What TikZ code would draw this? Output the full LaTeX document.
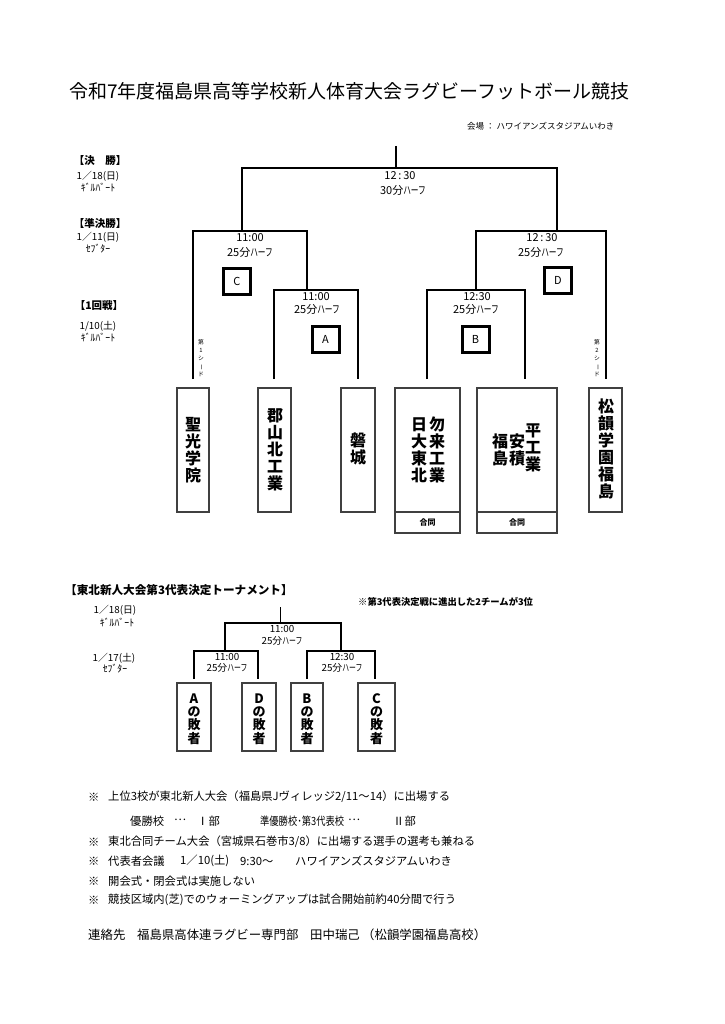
\documentclass[tikz,border=0pt]{standalone}
\usepackage{fontspec}
\setmainfont{Noto Sans CJK JP}
\newcommand\myfs[2]{\fontsize{#1}{#2}\selectfont}
\newcommand\hf{\scalebox{0.7}[1]{ハーフ}}
\newcommand\dts{\raisebox{0.3em}{…}}
\begin{document}
\begin{tikzpicture}[x=1pt,y=-1pt,
  br/.style={line width=2pt},
  brl/.style={line width=1.8pt},
  lbox/.style={draw,line width=3pt,minimum width=27,minimum height=26,inner sep=0,font=\myfs{11}{11}},
  team/.style={draw,line width=1.3pt,draw=black!75,inner sep=0},
  tt/.style={font=\myfs{16}{17}\bfseries,align=center,inner sep=0},
  lt/.style={font=\myfs{13}{13.3}\bfseries,align=center,inner sep=0},
  ml/.style={font=\myfs{11}{11},inner sep=0},
  mls/.style={font=\myfs{9.8}{9.8},inner sep=0},
  hd/.style={font=\myfs{10.5}{10.5}\bfseries,inner sep=0},
  dt/.style={font=\myfs{9.8}{9.8},inner sep=0},
  nt/.style={font=\myfs{11.3}{11.3},inner sep=0,anchor=west},
  ct/.style={font=\myfs{12.4}{12.4},inner sep=0,anchor=west},
  sd/.style={font=\myfs{5.8}{8},align=center,inner sep=0}]
\useasboundingbox (0,0) rectangle (724,1024);
% title
\node[font=\myfs{19}{19},inner sep=0] (title) at (349.5,91) {令和7年度福島県高等学校新人体育大会ラグビーフットボール競技};
\node[font=\myfs{8.5}{8.5},inner sep=0,anchor=west] (venue) at (467,126) {会場 ： ハワイアンズスタジアムいわき};
% left headers
\node[hd] (h1) at (100,161) {【決　勝】};
\node[dt] (h1a) at (98,176) {1／18(日)};
\node[dt] (h1b) at (98,188) {ｷﾞﾙﾊﾞｰﾄ};
\node[hd] (h2) at (100,224) {【準決勝】};
\node[dt] (h2a) at (98,237) {1／11(日)};
\node[dt] (h2b) at (98,249) {ｾﾌﾞﾀｰ};
\node[hd] (h3) at (99,306) {【1回戦】};
\node[dt] (h3a) at (98,326) {1/10(土)};
\node[dt] (h3b) at (98,338) {ｷﾞﾙﾊﾞｰﾄ};
% team boxes
\node[team,minimum width=32,minimum height=124] (t1) at (193,450) {};
\node[team,minimum width=33,minimum height=124] (t2) at (274.5,450) {};
\node[team,minimum width=34,minimum height=124] (t3) at (358,450) {};
\node[team,minimum width=65,minimum height=124] (t4) at (427.5,450) {};
\node[team,minimum width=80,minimum height=124] (t5) at (517,450) {};
\node[team,minimum width=33,minimum height=124] (t6) at (605.5,450) {};
\node[team,minimum width=65,minimum height=21,font=\myfs{8}{8}\bfseries] (g4) at (427.5,522.5) {合同};
\node[team,minimum width=80,minimum height=21,font=\myfs{8}{8}\bfseries] (g5) at (517,522.5) {合同};
\node[tt] (n1) at (193,450) {聖\\光\\学\\院};
\node[tt] (n2) at (275,450) {郡\\山\\北\\工\\業};
\node[tt] (n3) at (358,449) {磐\\城};
\node[tt] (n4a) at (437,450) {勿\\来\\工\\業};
\node[tt] (n4b) at (419,450) {日\\大\\東\\北};
\node[tt] (n5a) at (533,448) {平\\工\\業};
\node[tt] (n5b) at (517,450) {安\\積};
\node[tt] (n5c) at (500,450) {福\\島};
\node[tt] (n6) at (606,449) {松\\韻\\学\\園\\福\\島};
% seed labels
\node[sd] (s1) at (201,358) {第\\1\\シ\\\rotatebox[origin=c]{-90}{ー}\\ド};
\node[sd] (s2) at (597,358) {第\\2\\シ\\\rotatebox[origin=c]{-90}{ー}\\ド};
% leg ends
\coordinate (l1) at (193,379);
\coordinate (l2) at (274,379);
\coordinate (l3) at (358,379);
\coordinate (l4) at (427,379);
\coordinate (l5) at (525,379);
\coordinate (l6) at (606,379);
\coordinate (rA) at (316,290);
\coordinate (rB) at (476,290);
\coordinate (rC) at (250,231);
\coordinate (rD) at (541,231);
\coordinate (rF) at (396,168);
\coordinate (Ftop) at (396,146);
\coordinate (jA) at (307,290);
\coordinate (jB) at (476,290);
\coordinate (jC) at (242,231);
\coordinate (jD) at (557,231);
% brackets
\draw[br] (Ftop) -- (rF);
\draw[br] (jC) -- (jC|-rF) -- (jD|-rF) -- (jD);
\draw[br] (l1) -- (l1|-rC) -- (jA|-rC) -- (jA);
\draw[br] (jB) -- (jB|-rD) -- (l6|-rD) -- (l6);
\draw[br] (l2) -- (l2|-rA) -- (l3|-rA) -- (l3);
\draw[br] (l4) -- (l4|-rB) -- (l5|-rB) -- (l5);
% match labels
\node[ml] (fa) at (400,176) {12\,:\,30};
\node[ml] (fb) at (403,190) {30分\hf};
\node[ml] (ca) at (250,238) {11:00};
\node[ml] (cb) at (250,252) {25分\hf};
\node[ml] (da) at (542,238) {12\,:\,30};
\node[ml] (db) at (541,252) {25分\hf};
\node[ml] (aa) at (316,297) {11:00};
\node[ml] (ab) at (317,309) {25分\hf};
\node[ml] (ba) at (477,297) {12:30};
\node[ml] (bb) at (476,309) {25分\hf};
\node[lbox] (bxC) at (237,281) {C};
\node[lbox] (bxA) at (325.5,339) {A};
\node[lbox] (bxD) at (558,280.5) {D};
\node[lbox] (bxB) at (475.5,339) {B};
% lower section
\node[font=\myfs{11.6}{11.6}\bfseries,inner sep=0,anchor=west] (lh) at (65,590) {【東北新人大会第3代表決定トーナメント】};
\node[font=\myfs{9.3}{9.3}\bfseries,inner sep=0,anchor=west] (lnote) at (358,602) {※第3代表決定戦に進出した2チームが3位};
\node[dt] (d1a) at (115,610) {1／18(日)};
\node[dt] (d1b) at (117,623) {ｷﾞﾙﾊﾞｰﾄ};
\node[dt] (d2a) at (114,658) {1／17(土)};
\node[dt] (d2b) at (115,669) {ｾﾌﾞﾀｰ};
\node[team,minimum width=34,minimum height=68] (bA) at (194,717) {};
\node[team,minimum width=34,minimum height=68] (bD) at (259,717) {};
\node[team,minimum width=32,minimum height=68] (bB) at (307,717) {};
\node[team,minimum width=37,minimum height=68] (bC) at (376.5,717) {};
\node[lt] (tA) at (194,719) {A\\の\\敗\\者};
\node[lt] (tD) at (259,719) {D\\の\\敗\\者};
\node[lt] (tB) at (307,719) {B\\の\\敗\\者};
\node[lt] (tC) at (376.5,719) {C\\の\\敗\\者};
\coordinate (q1) at (194,679);
\coordinate (q2) at (258,679);
\coordinate (q3) at (307,679);
\coordinate (q4) at (375,679);
\coordinate (jL) at (225,651);
\coordinate (jR) at (341,651);
\coordinate (rT) at (282,623);
\coordinate (Ttop) at (280,607);
\draw[line width=0.8pt] (Ttop) -- (Ttop|-rT);
\draw[brl] (jL) -- (jL|-rT) -- (jR|-rT) -- (jR);
\draw[brl] (q1) -- (q1|-jL) -- (q2|-jL) -- (q2);
\draw[brl] (q3) -- (q3|-jR) -- (q4|-jR) -- (q4);
\node[mls] (ta) at (282,629) {11:00};
\node[mls] (tb) at (282,641) {25分\hf};
\node[mls] (la) at (227,657) {11:00};
\node[mls] (lb) at (227,668) {25分\hf};
\node[mls] (ra) at (342,657) {12:30};
\node[mls] (rb) at (342,668) {25分\hf};
% notes
\node[nt] (k1) at (88,797) {※};
\node[nt] (k1t) at (108,797) {上位3校が東北新人大会（福島県Jヴィレッジ2/11～14）に出場する};
\node[nt] (k2a) at (130,821) {優勝校};
\node[nt] (k2b) at (174,821) {\dts};
\node[nt] (k2c) at (197,821) {Ⅰ部};
\node[nt] (k2d) at (260,821) {\scalebox{0.82}[1]{準優勝校･第3代表校}};
\node[nt] (k2e) at (348,821) {\dts};
\node[nt] (k2f) at (393,821) {Ⅱ部};
\node[nt] (k3) at (88,842) {※};
\node[nt] (k3t) at (108,842) {東北合同チーム大会（宮城県石巻市3/8）に出場する選手の選考も兼ねる};
\node[nt] (k4) at (88,861) {※};
\node[nt] (k4t) at (108,861) {代表者会議};
\node[nt] (k4d) at (180,861) {1／10(土)};
\node[nt] (k4e) at (240,861) {9:30～};
\node[nt] (k4v) at (295,861) {ハワイアンズスタジアムいわき};
\node[nt] (k5) at (88,881) {※};
\node[nt] (k5t) at (108,881) {開会式・閉会式は実施しない};
\node[nt] (k6) at (88,900) {※};
\node[nt] (k6t) at (108,900) {競技区域内(芝)でのウォーミングアップは試合開始前約40分間で行う};
\node[ct] (c1) at (88,935) {連絡先};
\node[ct] (c2) at (137,935) {福島県高体連ラグビー専門部};
\node[ct] (c3) at (310,935) {田中瑞己};
\node[ct] (c4) at (362,935) {（松韻学園福島高校）};
\end{tikzpicture}
\end{document}
